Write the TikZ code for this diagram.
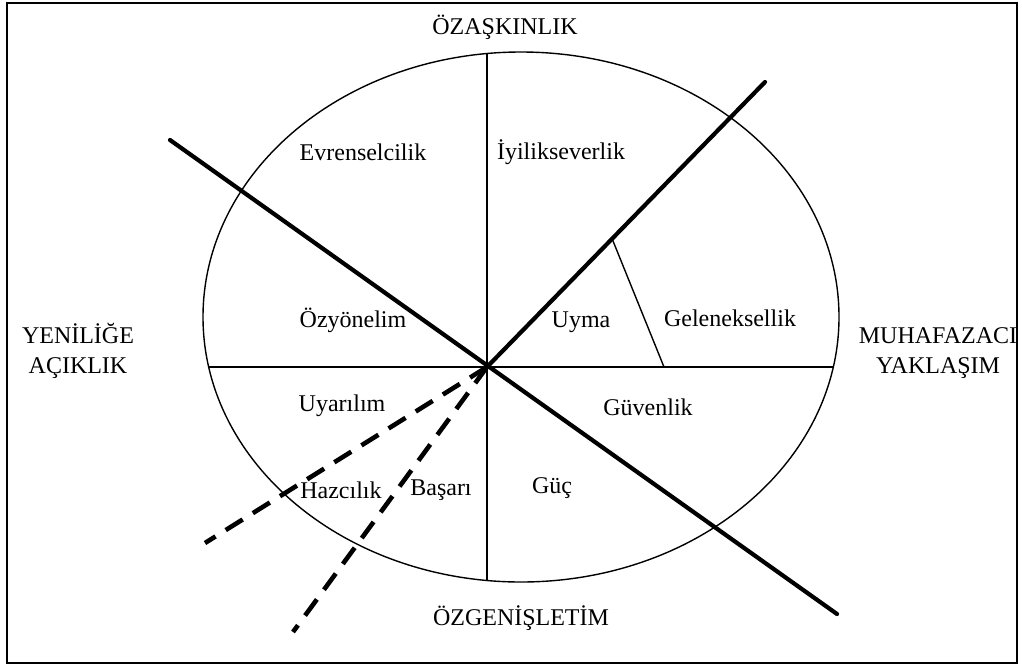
\documentclass[tikz,border=0pt]{standalone}
\usepackage{fontspec}
\setmainfont{Liberation Serif}
\usetikzlibrary{positioning,calc}

\begin{document}
\begin{tikzpicture}[
  x=0.5pt, y=-0.5pt,
  every node/.style={font=\fontsize{12}{14}\selectfont, inner sep=0pt},
  axis/.style={line width=2.1pt, line cap=round},
  thinline/.style={line width=0.7pt},
  dashline/.style={line width=2.3pt, dash pattern=on 10pt off 6pt},
  pole/.style={align=center},
]
\useasboundingbox (0,0) rectangle (1022,670);
\draw[line width=1pt] (7,3) rectangle (1017,663);

% circle and the two thin axes
\coordinate (o) at (487,367);
\draw[thinline] (521,317) ellipse [x radius=318, y radius=265];
\draw[thinline] (209,367) -- (833,367);
\draw[thinline] (487,54) -- (487,580);

% thick dividing lines
\coordinate (nw) at (170,140);
\coordinate (se) at (837,614);
\coordinate (ne) at (765,82);
\coordinate (cut) at ($(o)!0.45!(ne)$);
\draw[axis] (nw) -- (se);
\draw[axis] (o) -- (ne);
\draw[thinline] (cut) -- (664,367);

% dashed lines out of the centre
\coordinate (d1) at (205,543);
\coordinate (d2) at (293,632);
\draw[dashline] (o) -- (d1);
\draw[dashline] (o) -- (d2);

% value types
\node (evr) at (363,152) {Evrenselcilik};
\node (iyi) at (561,152) {İyilikseverlik};
\node (ozy) at (353,320) {Özyönelim};
\node (uym) at (581,322) {Uyma};
\node (gel) at (730,318) {Geleneksellik};
\node (uya) at (342,406) {Uyarılım};
\node (guv) at (648,407) {Güvenlik};
\node (haz) at (341,490) {Hazcılık};
\node (bas) at (441,490) {Başarı};
\node (guc) at (552,488) {Güç};

% higher order dimensions
\node (top) at (505,27) {ÖZAŞKINLIK};
\node (bot) at (521,618) {ÖZGENİŞLETİM};
\node[pole] (lft) at (78,351) {YENİLİĞE\\[1pt]AÇIKLIK};
\node[pole] (rgt) at (938,353) {MUHAFAZACI\\[1pt]YAKLAŞIM};
\end{tikzpicture}
\end{document}
